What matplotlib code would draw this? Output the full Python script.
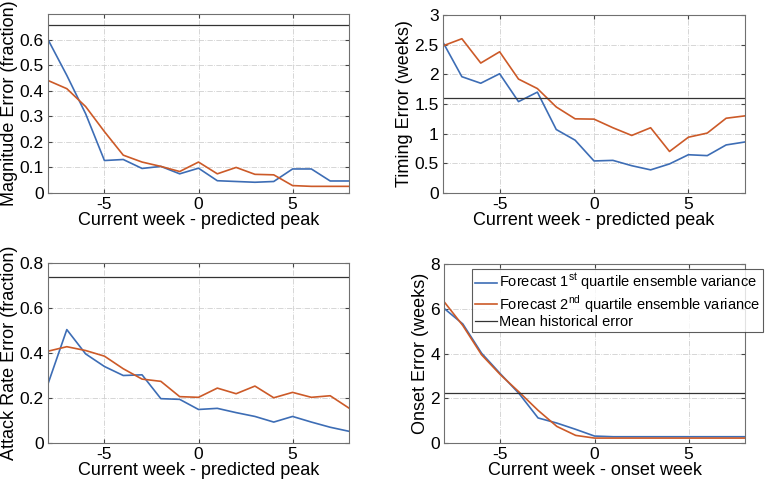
import matplotlib
matplotlib.use("Agg")
import matplotlib.pyplot as plt
import numpy as np

plt.rcParams["font.family"] = ["Liberation Sans", "DejaVu Sans"]
plt.rcParams["mathtext.fontset"] = "custom"
plt.rcParams["mathtext.rm"] = "Liberation Sans"

# weeks relative to peak / onset
weeks = np.arange(-8, 9)

# magnitude error (fraction)
mag_q1 = [0.60, 0.46, 0.31, 0.127, 0.131, 0.096, 0.104, 0.075, 0.097, 0.048, 0.045,
          0.042, 0.045, 0.094, 0.094, 0.047, 0.047]
mag_q2 = [0.44, 0.408, 0.338, 0.24, 0.148, 0.121, 0.104, 0.084, 0.121, 0.075, 0.100,
          0.073, 0.071, 0.029, 0.026, 0.026, 0.026]
mag_hist = 0.656

# timing error (weeks)
tim_q1 = [2.54, 1.96, 1.85, 2.01, 1.54, 1.70, 1.07, 0.89, 0.54, 0.55, 0.46, 0.39,
          0.49, 0.645, 0.63, 0.81, 0.86]
tim_q2 = [2.48, 2.60, 2.19, 2.38, 1.92, 1.76, 1.45, 1.25, 1.245, 1.10, 0.97, 1.10,
          0.70, 0.94, 1.01, 1.26, 1.30]
tim_hist = 1.60

# attack rate error (fraction)
ar_q1 = [0.263, 0.504, 0.396, 0.340, 0.300, 0.303, 0.197, 0.194, 0.149, 0.154, 0.135,
         0.118, 0.093, 0.118, 0.093, 0.070, 0.052]
ar_q2 = [0.408, 0.428, 0.411, 0.386, 0.330, 0.284, 0.274, 0.206, 0.203, 0.244, 0.219,
         0.253, 0.201, 0.225, 0.203, 0.210, 0.155]
ar_hist = 0.737

# onset error (weeks)
ons_q1 = [6.02, 5.32, 4.01, 3.09, 2.20, 1.12, 0.89, 0.61, 0.31, 0.28, 0.28, 0.28,
          0.28, 0.28, 0.28, 0.28, 0.28]
ons_q2 = [6.32, 5.25, 3.94, 3.05, 2.27, 1.46, 0.74, 0.34, 0.22, 0.22, 0.22, 0.22,
          0.22, 0.22, 0.22, 0.22, 0.22]
ons_hist = 2.25

legend_labels = ["Forecast 1$^{\\rm st}$ quartile ensemble variance",
                 "Forecast 2$^{\\rm nd}$ quartile ensemble variance",
                 "Mean historical error"]

blue = "#3d6db5"
orange = "#cc5a28"

W, H = 766, 484
fig = plt.figure(figsize=(W / 100, H / 100), dpi=100)

# axes boxes in pixels: left, top, right, bottom
boxes = [(48, 14, 349, 193), (443, 15, 745, 193),
         (48, 263, 349, 443), (444, 264, 745, 443)]

panels = [
    (mag_q1, mag_q2, mag_hist, (0, 0.7), np.arange(0, 0.61, 0.1),
     "Magnitude Error (fraction)", "Current week - predicted peak"),
    (tim_q1, tim_q2, tim_hist, (0, 3), np.arange(0, 3.1, 0.5),
     "Timing Error (weeks)", "Current week - predicted peak"),
    (ar_q1, ar_q2, ar_hist, (0, 0.8), np.arange(0, 0.81, 0.2),
     "Attack Rate Error (fraction)", "Current week - predicted peak"),
    (ons_q1, ons_q2, ons_hist, (0, 8), np.arange(0, 8.1, 2),
     "Onset Error (weeks)", "Current week - onset week"),
]

for (l, t, r, b), (q1, q2, hist, ylim, yt, ylab, xlab) in zip(boxes, panels):
    ax = fig.add_axes([l / W, 1 - b / H, (r - l) / W, (b - t) / H])
    l1, = ax.plot(weeks, q1, color=blue, lw=1.2)
    l2, = ax.plot(weeks, q2, color=orange, lw=1.2)
    l3 = ax.axhline(hist, color="#333333", lw=0.9)
    ax.set_xlim(-8, 8)
    ax.set_ylim(*ylim)
    ax.set_xticks([-5, 0, 5])
    ax.set_xticklabels(["-5", "0", "5"])
    ax.set_yticks(yt)
    ax.set_yticklabels(["%g" % v for v in yt])
    ax.grid(True, color="#d0d0d0", linestyle="-.", lw=0.6)
    ax.tick_params(direction="in", length=3, labelsize=12.5, color="#444444",
                   top=True, right=True, pad=3)
    for s in ax.spines.values():
        s.set_color("#707070")
        s.set_linewidth(0.8)
    ax.set_ylabel(ylab, fontsize=13, labelpad=1)
    ax.set_xlabel(xlab, fontsize=13, labelpad=0)

# legend only on the onset panel, sticking out past its right edge
leg = ax.legend([l1, l2, l3], legend_labels,
                loc="upper left", bbox_to_anchor=(0.093, 0.972),
                fontsize=10.5, frameon=True, fancybox=False, handlelength=1.5,
                handletextpad=0.15, borderpad=0.2, labelspacing=0.0,
                borderaxespad=0)
leg.get_frame().set_edgecolor("#333333")
leg.get_frame().set_linewidth(0.8)

fig.savefig("out.png", dpi=100)
